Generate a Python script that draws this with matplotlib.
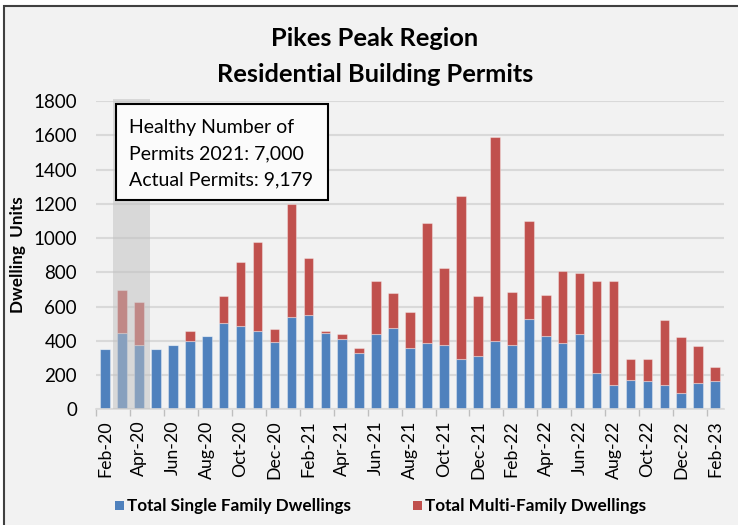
import matplotlib
matplotlib.use('Agg')
import matplotlib.pyplot as plt
from matplotlib.patches import Rectangle
import matplotlib.transforms as mtransforms
import numpy as np

months = ['Feb-20', 'Mar-20', 'Apr-20', 'May-20', 'Jun-20', 'Jul-20', 'Aug-20', 'Sep-20',
          'Oct-20', 'Nov-20', 'Dec-20', 'Jan-21', 'Feb-21', 'Mar-21', 'Apr-21', 'May-21',
          'Jun-21', 'Jul-21', 'Aug-21', 'Sep-21', 'Oct-21', 'Nov-21', 'Dec-21', 'Jan-22',
          'Feb-22', 'Mar-22', 'Apr-22', 'May-22', 'Jun-22', 'Jul-22', 'Aug-22', 'Sep-22',
          'Oct-22', 'Nov-22', 'Dec-22', 'Jan-23', 'Feb-23']
single_family = [350, 447, 375, 350, 375, 401, 428, 504, 484, 455, 395, 537, 548, 447, 408, 327,
                 441, 473, 356, 389, 375, 292, 313, 401, 375, 525, 428, 389, 441, 210, 144, 169,
                 163, 144, 93, 152, 163]
multi_family = [0, 251, 251, 0, 0, 54, 0, 155, 376, 519, 72, 663, 337, 8, 32, 29,
                308, 206, 214, 696, 452, 953, 346, 1186, 310, 572, 237, 418, 354, 539, 605, 123,
                129, 375, 327, 218, 84]
yticks = [0, 200, 400, 600, 800, 1000, 1200, 1400, 1600, 1800]
title_lines = ['Pikes Peak Region', 'Residential Building Permits']
box_lines = ['Healthy Number of', 'Permits 2021: 7,000', 'Actual Permits: 9,179']
legend_labels = ['Total Single Family Dwellings', 'Total Multi-Family Dwellings']

W, H = 738, 525
FONT = 'Lato'
BLUE = '#4F81BD'
RED = '#C0504D'

def fx(x):
    return x / W

def fy(y):
    return 1 - y / H

fig = plt.figure(figsize=(W / 100, H / 100), dpi=100, facecolor='white')
# chart area background with border (top/left visible)
fig.patches.append(Rectangle((fx(4), fy(530)), fx(760), fy(6) - fy(530), transform=fig.transFigure,
                             facecolor='#F2F2F2', edgecolor='#404040', linewidth=1.5, zorder=-5))

ax = fig.add_axes([fx(96.5), fy(409.3), fx(723.7) - fx(96.5), fy(101) - fy(409.3)])
ax.set_facecolor('none')

x = np.arange(len(months))
bw = 0.57
edge = (1, 1, 1, 0.35)
ax.bar(x, single_family, width=bw, color=BLUE, edgecolor=edge, linewidth=0.8, zorder=2)
ax.bar(x, multi_family, width=bw, bottom=single_family, color=RED, edgecolor=edge, linewidth=0.8, zorder=2)

ax.set_xlim(-0.5, len(months) - 0.5)
ax.set_ylim(0, 1800)
ax.set_yticks(yticks)
ax.set_yticklabels([str(v) for v in yticks], fontsize=13.5, family=FONT)
ax.tick_params(axis='y', length=0, pad=14)
ax.yaxis.grid(True, color='#D9D9D9', linewidth=1.5, zorder=0)
ax.set_axisbelow(True)

ax.set_xticks(x[::2])
ax.set_xticklabels(months[::2], rotation=90, fontsize=12.8, family=FONT)
ax.set_xticks(np.arange(-0.5, len(months), 2), minor=True)
ax.tick_params(axis='x', which='major', length=0, pad=8)
ax.tick_params(axis='x', which='minor', length=5, color='#BFBFBF', width=1)

for s in ['top', 'right', 'left']:
    ax.spines[s].set_visible(False)
ax.spines['bottom'].set_color('#D9D9D9')
ax.spines['bottom'].set_linewidth(1.2)

# shaded period
trans = mtransforms.blended_transform_factory(ax.transData, ax.transAxes)
ax.add_patch(Rectangle((0.47, 0), 2.18, 1.007, transform=trans, facecolor='#C0C0C0',
                       alpha=0.5, edgecolor='none', zorder=3, clip_on=False))

# title
fig.text(fx(375), fy(38), title_lines[0], ha='center', va='center', fontsize=18.3,
         fontweight='bold', family=FONT)
fig.text(fx(375), fy(75), title_lines[1], ha='center', va='center', fontsize=18.3,
         fontweight='bold', family=FONT)

# y label
fig.text(fx(18), fy(255), 'Dwelling  Units', rotation=90, ha='center', va='center',
         fontsize=12.3, fontweight='bold', family=FONT)

# annotation box
fig.patches.append(Rectangle((fx(116), fy(200)), fx(328) - fx(116), fy(104) - fy(200),
                             transform=fig.transFigure, facecolor='#FBFBFB', edgecolor='black',
                             linewidth=1.5, zorder=5))
for i, line in enumerate(box_lines):
    fig.text(fx(129), fy(133 + 26 * i), line, ha='left', va='baseline', fontsize=14,
             family=FONT, zorder=6)

# legend
fig.patches.append(Rectangle((fx(115), fy(510)), fx(9), fy(0) - fy(9), transform=fig.transFigure,
                             facecolor=BLUE, edgecolor='none'))
fig.text(fx(127), fy(505.5), legend_labels[0], ha='left', va='center', fontsize=12.3,
         fontweight='bold', family=FONT)
fig.patches.append(Rectangle((fx(413), fy(510)), fx(9), fy(0) - fy(9), transform=fig.transFigure,
                             facecolor=RED, edgecolor='none'))
fig.text(fx(425), fy(505.5), legend_labels[1], ha='left', va='center', fontsize=12.3,
         fontweight='bold', family=FONT)

fig.savefig('out.png', dpi=100, facecolor=fig.get_facecolor())
